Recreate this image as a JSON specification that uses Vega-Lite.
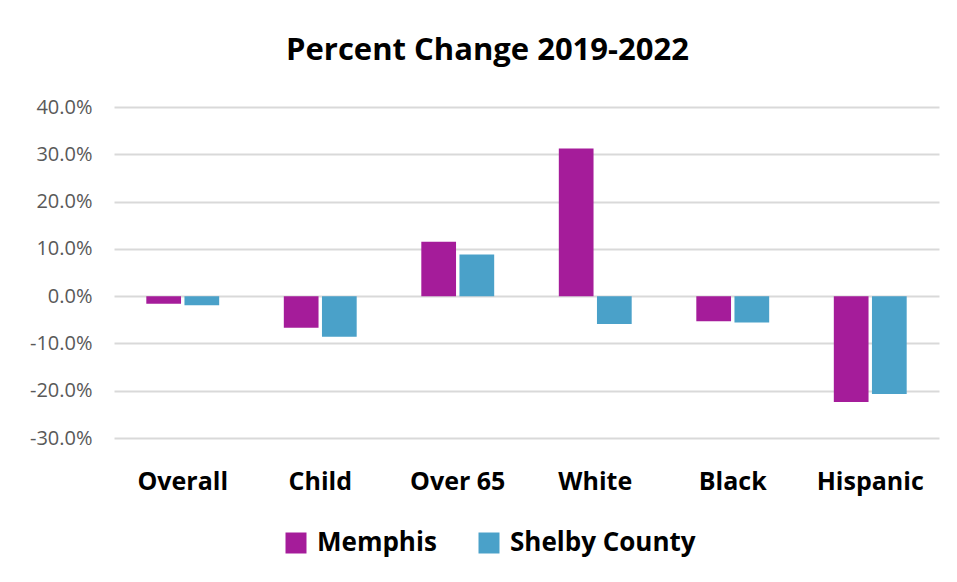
{
  "$schema": "https://vega.github.io/schema/vega-lite/v6.json",
  "autosize": "none",
  "width": 825,
  "height": 331,
  "padding": {"left": 114, "top": 107, "right": 18, "bottom": 144},
  "background": "white",
  "title": {
    "text": "Percent Change 2019-2022",
    "font": "Open Sans",
    "fontSize": 31,
    "fontWeight": "bold",
    "color": "#000000",
    "anchor": "middle",
    "dx": -39,
    "offset": 30
  },
  "data": {
    "values": [
      {"group": "Overall", "place": "Memphis", "value": -0.016},
      {"group": "Overall", "place": "Shelby County", "value": -0.019},
      {"group": "Child", "place": "Memphis", "value": -0.067},
      {"group": "Child", "place": "Shelby County", "value": -0.086},
      {"group": "Over 65", "place": "Memphis", "value": 0.115},
      {"group": "Over 65", "place": "Shelby County", "value": 0.088},
      {"group": "White", "place": "Memphis", "value": 0.312},
      {"group": "White", "place": "Shelby County", "value": -0.059},
      {"group": "Black", "place": "Memphis", "value": -0.053},
      {"group": "Black", "place": "Shelby County", "value": -0.056},
      {"group": "Hispanic", "place": "Memphis", "value": -0.224},
      {"group": "Hispanic", "place": "Shelby County", "value": -0.207}
    ]
  },
  "mark": {"type": "bar"},
  "encoding": {
    "x": {
      "field": "group",
      "type": "nominal",
      "sort": ["Overall", "Child", "Over 65", "White", "Black", "Hispanic"],
      "scale": {"paddingInner": 0.47, "paddingOuter": 0.235},
      "axis": {
        "title": null,
        "labelAngle": 0,
        "domain": false,
        "ticks": false,
        "labelFont": "Open Sans",
        "labelFontSize": 25,
        "labelFontWeight": "bold",
        "labelColor": "#000000",
        "labelPadding": 43,
        "labelBaseline": "middle",
        "labelLimit": 0
      }
    },
    "xOffset": {
      "field": "place",
      "type": "nominal",
      "scale": {"paddingInner": 0.09}
    },
    "y": {
      "field": "value",
      "type": "quantitative",
      "scale": {"domain": [-0.3, 0.4], "nice": false},
      "axis": {
        "title": null,
        "labelExpr": "replace(format(datum.value, '.1%'), '\u2212', '-')",
        "values": [-0.3, -0.2, -0.1, 0, 0.1, 0.2, 0.3, 0.4],
        "domain": false,
        "ticks": false,
        "labelFont": "Open Sans",
        "labelFontSize": 20,
        "labelColor": "#595959",
        "labelPadding": 22,
        "gridColor": "#d9d9d9",
        "gridWidth": 2
      }
    },
    "color": {
      "field": "place",
      "type": "nominal",
      "scale": {"domain": ["Memphis", "Shelby County"], "range": ["#A51C9A", "#4AA1C9"]},
      "legend": {
        "title": null,
        "orient": "none",
        "direction": "horizontal",
        "legendX": 169,
        "legendY": 423,
        "symbolType": "square",
        "symbolSize": 441,
        "symbolStrokeWidth": 0,
        "labelFont": "Open Sans",
        "labelFontSize": 26,
        "labelFontWeight": "bold",
        "labelColor": "#000000",
        "labelOffset": 8,
        "labelLimit": 0,
        "columnPadding": 39
      }
    }
  },
  "config": {
    "view": {"stroke": null}
  }
}
